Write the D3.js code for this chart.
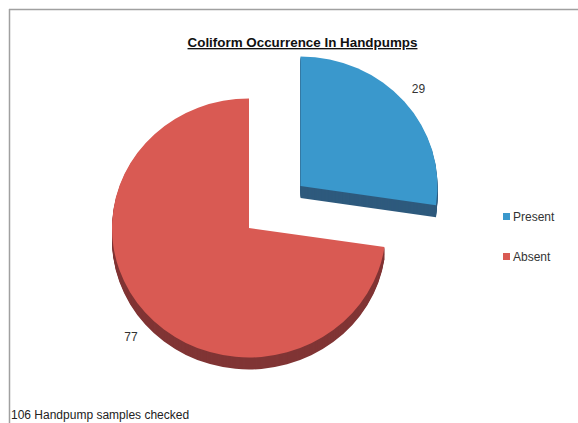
<!DOCTYPE html>
<html>
<head>
<meta charset="utf-8">
<script src="https://cdn.jsdelivr.net/npm/d3@7"></script>
<style>
  body { margin: 0; background: #fff; }
  text { font-family: "Liberation Sans", Arial, sans-serif; }
</style>
</head>
<body>
<script>
// chart data
var categories = ["Present", "Absent"];
var counts = [29, 77];
var topColors = ["#3a98cc", "#d95a53"];
var sideColors = ["#2e5a7d", "#803535"];
var chartTitle = "Coliform Occurrence In Handpumps";
var footNote = "106 Handpump samples checked";

var width = 578, height = 423;

// pie geometry
var cx = 249, cy = 228,
    rx = 137, k = 0.945,   // vertical squash of the tilted pie
    depth = 12,
    explode = 68,
    labelR = 147;

var svg = d3.select("body").append("svg")
  .attr("width", width)
  .attr("height", height);

// frame lines (top and left)
svg.append("line")
  .attr("x1", 9).attr("x2", width).attr("y1", 9.5).attr("y2", 9.5)
  .attr("stroke", "#a0a0a0").attr("stroke-width", 1.5);
svg.append("line")
  .attr("x1", 9.5).attr("x2", 9.5).attr("y1", 9).attr("y2", height)
  .attr("stroke", "#a0a0a0").attr("stroke-width", 1.5);

// title
svg.append("text")
  .attr("x", 302.5)
  .attr("y", 47)
  .attr("text-anchor", "middle")
  .attr("font-size", 13.4)
  .attr("font-weight", "bold")
  .attr("fill", "#111")
  .attr("text-decoration", "underline")
  .text(chartTitle);

var pie = d3.pie().sort(null).startAngle(0).endAngle(2 * Math.PI);
var arcs = pie(counts);
var arc = d3.arc().innerRadius(0).outerRadius(rx);

// only the Present slice is pulled out
function offset(d, i) {
  if (i !== 0) return [0, 0];
  var mid = (d.startAngle + d.endAngle) / 2;
  return [explode * Math.sin(mid), -explode * Math.cos(mid) * k];
}

arcs.forEach(function(d, i) {
  var o = offset(d, i);
  var g = svg.append("g");
  // side wall: stack of shifted copies
  for (var s = depth; s >= 1; s--) {
    g.append("path")
      .attr("transform", "translate(" + (cx + o[0]) + "," + (cy + o[1] + s) + ") scale(1," + k + ")")
      .attr("d", arc(d))
      .attr("fill", sideColors[i]);
  }
  // top face
  g.append("path")
    .attr("transform", "translate(" + (cx + o[0]) + "," + (cy + o[1]) + ") scale(1," + k + ")")
    .attr("d", arc(d))
    .attr("fill", topColors[i]);

  // value label
  var mid = (d.startAngle + d.endAngle) / 2;
  var lx = cx + o[0] + labelR * Math.sin(mid);
  var ly = cy + o[1] - labelR * Math.cos(mid) * k;
  var lower = Math.cos(mid) < 0;
  if (lower) ly += depth;
  svg.append("text")
    .attr("x", lx)
    .attr("y", lower ? ly + 10 : ly - 2)
    .attr("text-anchor", Math.sin(mid) >= 0 ? "start" : "end")
    .attr("font-size", 12)
    .attr("fill", "#333")
    .text(counts[i]);
});

// legend
var legend = svg.selectAll(".legend")
  .data(categories)
  .enter().append("g")
  .attr("class", "legend")
  .attr("transform", function(d, i) { return "translate(503," + (213 + i * 40) + ")"; });

legend.append("rect")
  .attr("width", 7).attr("height", 7)
  .attr("fill", function(d, i) { return topColors[i]; });

legend.append("text")
  .attr("x", 10)
  .attr("y", 8)
  .attr("font-size", 12)
  .attr("fill", "#333")
  .text(function(d) { return d; });

// footnote
svg.append("text")
  .attr("x", 11)
  .attr("y", 419)
  .attr("font-size", 12)
  .attr("fill", "#222")
  .text(footNote);
</script>
</body>
</html>
